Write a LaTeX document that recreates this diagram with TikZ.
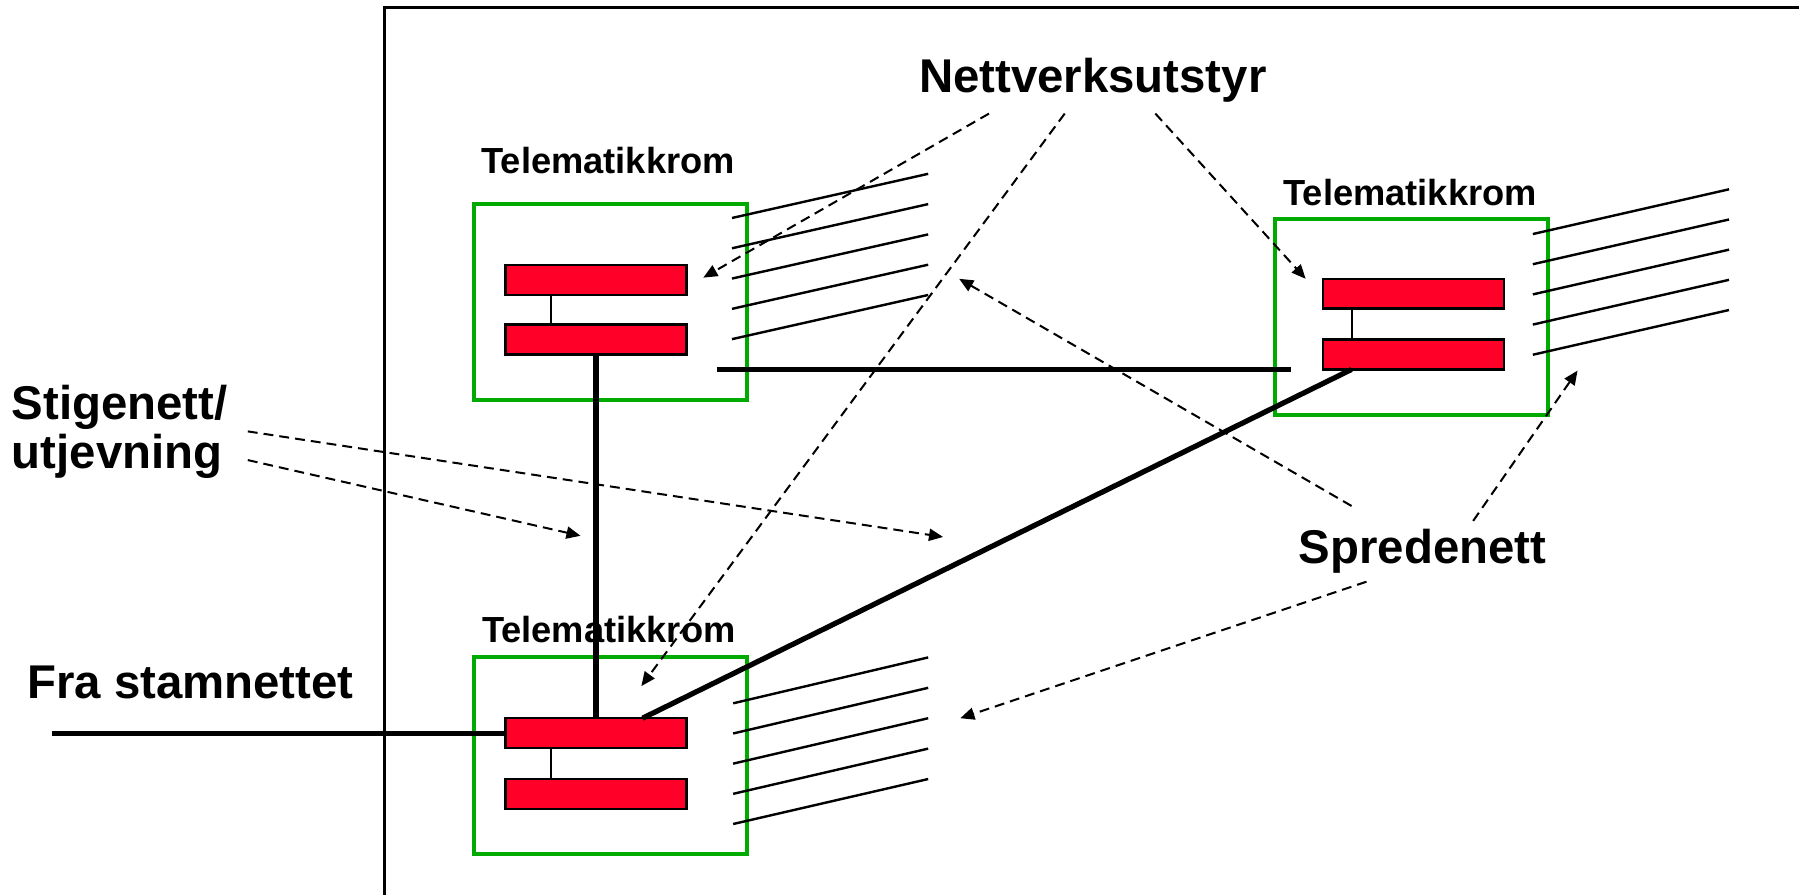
\documentclass[tikz,border=0pt]{standalone}
\usepackage{fontspec}
\setmainfont{Liberation Sans}
\usetikzlibrary{calc,arrows.meta}
\definecolor{roomgreen}{RGB}{0,170,0}
\definecolor{devred}{RGB}{255,0,40}
\begin{document}
\begin{tikzpicture}[x=0.02cm,y=-0.02cm,
  room/.style={draw=roomgreen, line width=2pt, minimum width=4.76cm, minimum height=3.42cm, inner sep=0, outer sep=0},
  dev/.style={draw=black, fill=devred, line width=1.2pt, minimum width=3.16cm, minimum height=0.52cm, inner sep=0, outer sep=0},
  biglabel/.style={font=\fontsize{23.5}{24}\selectfont\bfseries, inner sep=0},
  roomlabel/.style={font=\fontsize{18}{22}\selectfont\bfseries, inner sep=0, anchor=base},
  trunk/.style={line width=2.6pt},
  cable/.style={line width=1.2pt},
  link/.style={line width=1pt},
  pointer/.style={line width=1pt, dash pattern=on 4.9pt off 3pt, -{Triangle[length=7pt,width=6pt]}},
]
\useasboundingbox (0,0) rectangle (1568,780);
% frame
\draw[line width=1.2pt] (335,780) -- (335,6.5) -- (1568,6.5);
% rooms
\node[room] (TLroom) at (532,263.5) {};
\node[room] (Rroom) at (1230.5,276.5) {};
\node[room] (BLroom) at (532.5,658.5) {};
% cables
\foreach \i in {0,...,4} {
  \draw[cable] (638,{190+26.4*\i}) -- (809,{151.5+26.4*\i});
  \draw[cable] (1336,{204+26.3*\i}) -- (1507,{165+26.3*\i});
  \draw[cable] (639,{613+26.3*\i}) -- (809,{573+26.5*\i});
}
% devices
\node[dev] (TLa) at (519.5,244) {};
\node[dev] (TLb) at (519.5,296) {};
\node[dev] (Ra) at (1232,256) {};
\node[dev] (Rb) at (1232,309) {};
\node[dev] (BLa) at (519.5,639) {};
\node[dev] (BLb) at (519.5,692) {};
\draw[link] ($(TLa.south)+(-39.5,0)$) -- ($(TLb.north)+(-39.5,0)$);
\draw[link] ($(Ra.south)+(-54,0)$) -- ($(Rb.north)+(-54,0)$);
\draw[link] ($(BLa.south)+(-39.5,0)$) -- ($(BLb.north)+(-39.5,0)$);
% trunks
\draw[trunk] (TLb.south) -- (BLa.north);
\draw[trunk] ($(Rb.south)+(-54,0)$) -- ($(BLa.north)+(40.5,0)$);
\coordinate (h1) at (625,322);
\coordinate (h2) at (1125,322);
\draw[trunk] (h1) -- (h2);
\coordinate (fsend) at (45,639);
\draw[trunk] (fsend) -- (BLa.west);
% labels
\node[roomlabel] (TLlab) at (530,151) {Telematikkrom};
\node[roomlabel] (Rlab) at (1229,178.7) {Telematikkrom};
\node[roomlabel] (BLlab) at (530.6,560) {Telematikkrom};
\node[biglabel, anchor=base] (nett) at (952.5,81) {Nettverksutstyr};
\node[biglabel, anchor=base] (spred) at (1240,491) {Spredenett};
\node[biglabel, anchor=base] (fra) at (166,608.5) {Fra stamnettet};
\node[biglabel, anchor=base west, align=left] (stig) at (10,408) {Stigenett/\\utjevning};
% pointer arrows
\coordinate (pa) at (862,99);   \coordinate (ta) at (613,242);
\coordinate (pb) at (928,99);   \coordinate (tb) at (559,598);
\coordinate (pc) at (1007,99);  \coordinate (tc) at (1138,243);
\coordinate (pd) at (1178,441); \coordinate (td) at (836,243);
\coordinate (pe) at (1284,454); \coordinate (te) at (1375,323);
\coordinate (pf) at (1191,507); \coordinate (tf) at (837,626);
\coordinate (pg) at (216,376);  \coordinate (tg) at (822,468);
\coordinate (ph) at (216,401);  \coordinate (th) at (506,467);
\draw[pointer] (pa) -- (ta);
\draw[pointer] (pb) -- (tb);
\draw[pointer] (pc) -- (tc);
\draw[pointer] (pd) -- (td);
\draw[pointer] (pe) -- (te);
\draw[pointer] (pf) -- (tf);
\draw[pointer] (pg) -- (tg);
\draw[pointer] (ph) -- (th);
\end{tikzpicture}
\end{document}
